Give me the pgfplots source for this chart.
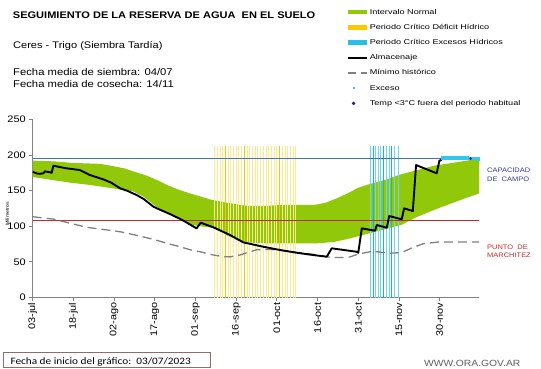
\documentclass[border=0pt]{standalone}
\usepackage{pgfplots}
\pgfplotsset{compat=1.18}
\usepackage{fontspec}
\setmainfont[FakeStretch=1.15]{Liberation Sans}
\newfontfamily\legfont[FakeStretch=1.3]{Liberation Sans}
\newfontfamily\calib[FakeStretch=1.15]{Carlito}
\definecolor{bandgreen}{RGB}{145,200,10}
\definecolor{ylight}{RGB}{252,234,140}
\definecolor{ygold}{RGB}{240,200,20}
\definecolor{clight}{RGB}{110,215,240}
\definecolor{cdark}{RGB}{20,180,220}
\definecolor{capline}{RGB}{70,110,195}
\definecolor{pmline}{RGB}{190,45,45}
\definecolor{axisgray}{RGB}{130,130,130}
\definecolor{dashgray}{RGB}{128,128,128}
\definecolor{excyan}{RGB}{50,200,235}
\definecolor{navy}{RGB}{30,30,140}
\definecolor{captext}{RGB}{50,50,170}
\definecolor{pmtext}{RGB}{200,40,40}
\definecolor{boxcol}{RGB}{140,110,110}
\definecolor{webgray}{RGB}{95,95,95}
\definecolor{legyellow}{RGB}{250,200,0}
\definecolor{legcyan}{RGB}{40,190,235}
\begin{document}
\begin{tikzpicture}
\useasboundingbox (0pt,0pt) rectangle (541pt,-368pt);
\begin{axis}[
 at={(32.7pt,-297.5pt)}, anchor=south west,
 scale only axis, width=446.3pt, height=178.2pt,
 xmin=0, xmax=164.5, ymin=0, ymax=250,
 axis x line*=bottom, axis y line*=left,
 axis line style={-, draw=axisgray, line width=0.8pt},
 xtick={0,15,...,150},
 xticklabels={03-jul,18-jul,02-ago,17-ago,01-sep,16-sep,01-oct,16-oct,31-oct,15-nov,30-nov},
 ytick={0,50,...,250},
 tick align=outside, major tick length=3.5pt,
 tick style={draw=axisgray, line width=0.8pt},
 xticklabel style={rotate=90, anchor=east, font=\fontsize{9.5}{10}\selectfont, inner sep=1.5pt},
 yticklabel style={font=\fontsize{9.5}{10}\selectfont},
 /pgf/number format/assume math mode=true,
 legend cell align=left,
 legend style={at={(0.7036,1.632)}, anchor=north west, draw=none, fill=none,
   inner sep=0pt, outer sep=0pt, row sep=4.2pt,
   font=\legfont\fontsize{7}{8}\selectfont,
   /tikz/every even column/.append style={text height=5.5pt, text depth=1.5pt, inner sep=0pt},
   /tikz/every odd column/.append style={inner sep=0pt, column sep=0pt}},
]
% legend
\addlegendimage{legend image code/.code={\fill[bandgreen, draw=none] (0pt,-2.2pt) rectangle (19.3pt,2.2pt);}}
\addlegendentry{Intervalo Normal}
\addlegendimage{legend image code/.code={\fill[legyellow, draw=none] (0pt,-2.2pt) rectangle (19.3pt,2.2pt);}}
\addlegendentry{Periodo Crítico Déficit Hídrico}
\addlegendimage{legend image code/.code={\fill[legcyan, draw=none] (0pt,-2.2pt) rectangle (19.3pt,2.2pt);}}
\addlegendentry{Periodo Crítico Excesos Hídricos}
\addlegendimage{legend image code/.code={\path[draw=none, fill=none] (0pt,-2.2pt) rectangle (19.3pt,2.2pt); \draw[black, line width=1.8pt] (0pt,0pt) -- (19.3pt,0pt);}}
\addlegendentry{Almacenaje}
\addlegendimage{legend image code/.code={\path[draw=none, fill=none] (0pt,-2.2pt) rectangle (19.3pt,2.2pt); \draw[dashgray, line width=1.3pt, dash pattern=on 8pt off 5pt] (0pt,0pt) -- (19.3pt,0pt);}}
\addlegendentry{Mínimo histórico}
\addlegendimage{legend image code/.code={\path[draw=none, fill=none] (0pt,-2.2pt) rectangle (19.3pt,2.2pt); \fill[excyan, draw=none] (5pt,-1pt) rectangle (7pt,1pt);}}
\addlegendentry{Exceso}
\addlegendimage{legend image code/.code={\path[draw=none, fill=none] (0pt,-2.2pt) rectangle (19.3pt,2.2pt); \fill[navy, draw=none] (6pt,1.8pt) -- (7.8pt,0pt) -- (6pt,-1.8pt) -- (4.2pt,0pt) -- cycle;}}
\addlegendentry{Temp <3°C fuera del periodo habitual}

% normal interval band (upper then lower reversed)
\addplot[fill=bandgreen, draw=none, forget plot] coordinates {
(0,192) (8,191) (14,189) (21,188) (25,187.5) (30,184) (34,181) (37,177) (42,171) (46,164.5)
(50,157) (54,151) (58,146) (62,141.5) (66,137) (70,134) (74,131.5) (78,129) (82,128) (86,128.5)
(90,129.5) (95,130) (100,130) (104,130) (108,133) (112,139) (116,146) (120,154) (124,159)
(130,165) (135,172) (141,178) (148,185) (155,189) (160,192) (164.5,195)
(164.5,146) (160,140) (155,133) (148,123) (141,112) (136,102) (131,97) (126,92) (121,87)
(116,82) (111,78) (105,76) (98,76) (86,76) (80,77) (76,80) (72,86) (69,94) (66,98) (62,100)
(58,102) (54,111) (50,118) (45.7,127) (41,141) (37,149) (33,151) (28,154) (21,158) (14,161) (7,165) (0,169)
} -- cycle;

% critical deficit period (yellow)
\addplot[ycomb, color=ylight, line width=0.8pt, forget plot] coordinates {
(67,213) (68,213) (69,213) (70,213) (72,213) (73,213) (74,213) (75,213) (76,213) (77,213)
(79,213) (80,213) (81,213) (82,213) (83,213) (84,213) (85,213) (86,213) (87,213) (88,213)
(89,213) (90,213) (92,213) (93,213) (94,213) (95,213) (96,213) (97,213)
};
\addplot[ycomb, color=ygold, line width=0.8pt, forget plot] coordinates {
(71,213) (78,213) (91,213)
};
% critical excess period (cyan)
\addplot[ycomb, color=clight, line width=0.8pt, forget plot] coordinates {
(124.5,213) (126.3,213) (127.3,213) (128.3,213) (130.3,213) (131.3,213) (133.3,213) (134.8,213)
};
\addplot[ycomb, color=cdark, line width=0.8pt, forget plot] coordinates {
(125.4,213) (129.3,213) (132.3,213)
};

% field capacity and wilting point
\addplot[capline, line width=0.8pt, forget plot] coordinates {(0,195) (164.5,195)};
\addplot[pmline, line width=0.8pt, forget plot] coordinates {(0,108) (164.5,108)};

% historical minimum
\addplot[dashgray, line width=1.3pt, dash pattern=on 9pt off 5pt, forget plot] coordinates {
(0,113.3) (7.6,110) (14,104) (19.9,98.5) (26,95.5) (32.2,92.3) (38,87.5) (44.5,81.6) (50,75.5)
(54.3,71.2) (58,67) (61.7,64.2) (66.6,59.6) (70,57.5) (72.7,57) (76.4,59.6) (79,63) (82.6,67)
(87,67.5) (91.2,66.6) (97,63.5) (103.4,60.6) (109.6,56.4) (114,56) (117,57) (120,61) (125.5,65)
(131,62) (136,63) (140,70) (144,75.5) (150,78) (164.5,78)
};

% storage
\addplot[black, line width=1.9pt, line join=round, forget plot] coordinates {
(0,176.4) (1.5,174) (2.7,173.5) (4,174.5) (4.5,177) (6,176) (7,175) (7.6,184.9) (12,181.5)
(17.4,178.8) (21.1,171.8) (26,165.8) (29,161) (32.2,153.2) (35,149.5) (38.3,143.8) (41,138)
(44.5,127.4) (47,123) (50.6,117.1) (55,109) (60.4,97) (61.9,104.9) (66.6,98.5) (72.7,87.7)
(77.6,77.4) (85,71.2) (91.2,66.6) (97.3,62.8) (103.4,59.6) (108.4,57.2) (110.2,69) (119.4,64.2)
(120,62.8) (121.3,97) (126.2,93.7) (126.8,101.7) (130.5,97.9) (131.4,114.3) (136,109.7)
(136.9,125.1) (140.1,121.3) (141.3,185.8) (148.9,174.2) (149.9,191.9) (150.8,193.5)
};

% exceso points
\addplot[only marks, mark=square*, mark size=1.4pt, color=excyan, forget plot] coordinates {
(151,196.5) (152,196.4) (153,196.3) (154,196.2) (155,196.1) (156,196) (157,195.9) (158,195.8)
(159,195.7) (160,195.6) (161,195.5) (162,195.4) (163,195.3) (164,195.2)
};
\addplot[only marks, mark=diamond*, mark size=1.3pt, color=navy, forget plot] coordinates {(161.4,195)};
\end{axis}

% texts
\node[anchor=base west, inner sep=0pt, font=\bfseries\fontsize{9.6}{11}\selectfont] at (12.7pt,-18.3pt) {SEGUIMIENTO DE LA RESERVA DE AGUA\ \ EN EL SUELO};
\node[anchor=base west, inner sep=0pt, font=\fontsize{9.6}{11}\selectfont] at (13pt,-48.3pt) {Ceres - Trigo (Siembra Tardía)};
\node[anchor=base west, inner sep=0pt, font=\fontsize{9.8}{11}\selectfont] at (13pt,-75pt) {Fecha media de siembra: 04/07};
\node[anchor=base west, inner sep=0pt, font=\fontsize{9.8}{11}\selectfont] at (13pt,-87.3pt) {Fecha media de cosecha: 14/11};
\node[rotate=90, inner sep=0pt, font=\fontsize{4.5}{5}\selectfont] at (7.3pt,-214pt) {Milímetros};

\node[anchor=base west, inner sep=0pt, text=captext, font=\fontsize{6.5}{7}\selectfont] at (487pt,-172.3pt) {CAPACIDAD};
\node[anchor=base west, inner sep=0pt, text=captext, font=\fontsize{6.5}{7}\selectfont] at (487pt,-181.3pt) {DE\ \ CAMPO};
\node[anchor=base west, inner sep=0pt, text=pmtext, font=\fontsize{6.5}{7}\selectfont] at (487pt,-249.3pt) {PUNTO\ \ DE};
\node[anchor=base west, inner sep=0pt, text=pmtext, font=\fontsize{6.5}{7}\selectfont] at (487pt,-257pt) {MARCHITEZ};

\draw[boxcol, line width=0.9pt] (3.4pt,-352.4pt) rectangle (210pt,-367.6pt);
\node[anchor=base west, inner sep=0pt, font=\calib\fontsize{9.8}{11}\selectfont] at (10.3pt,-364.5pt) {Fecha de inicio del gráfico:\ \ 03/07/2023};
\node[anchor=base west, inner sep=0pt, text=webgray, font=\fontsize{9}{10}\selectfont] at (424pt,-366pt) {WWW.ORA.GOV.AR};
\end{tikzpicture}
\end{document}
